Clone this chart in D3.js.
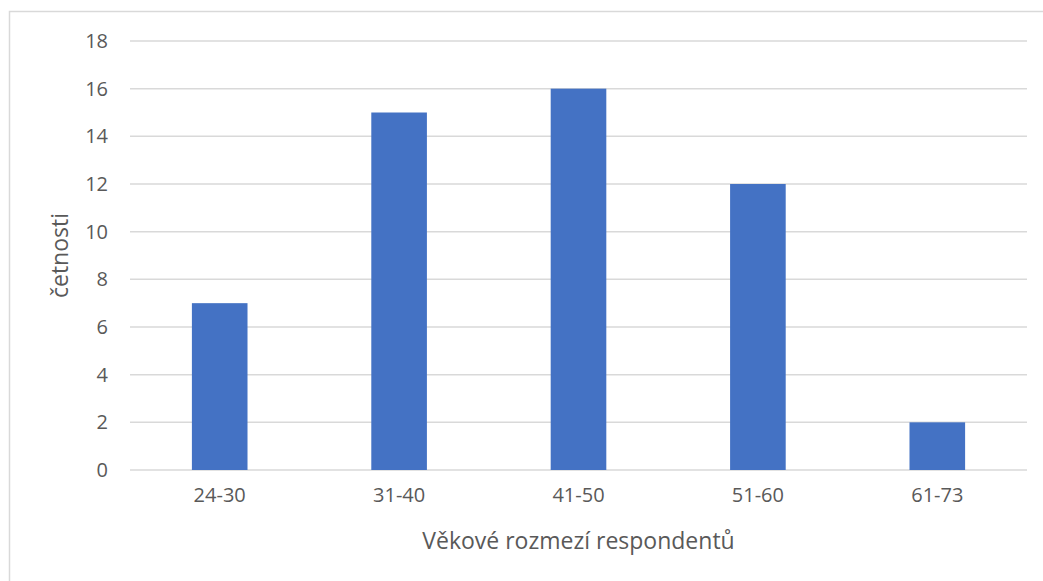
<!DOCTYPE html>
<html>
<head>
<meta charset="utf-8">
<script src="https://cdn.jsdelivr.net/npm/d3@7"></script>
<style>
  html, body { margin: 0; padding: 0; background: #fff; }
  svg { display: block; }
</style>
</head>
<body>
<div id="chart"></div>
<script>
// Respondent counts by age range
const categories = ["24-30", "31-40", "41-50", "51-60", "61-73"];
const counts = [7, 15, 16, 12, 2];
const yTicks = [0, 2, 4, 6, 8, 10, 12, 14, 16, 18];
const xTitle = "Věkové rozmezí respondentů";
const yTitle = "četnosti";

const W = 1043, H = 581;
const plot = { left: 130, right: 1027, top: 41, bottom: 470 };
const font = "'Open Sans', 'Noto Sans', sans-serif";
const textColor = "#595959";

const svg = d3.select("#chart").append("svg")
  .attr("width", W).attr("height", H);

// chart frame
svg.append("rect")
  .attr("x", 9.5).attr("y", 11.5)
  .attr("width", W + 10).attr("height", H + 10)
  .attr("fill", "#fff").attr("stroke", "#d9d9d9").attr("stroke-width", 1.5);

const x = d3.scaleBand()
  .domain(categories)
  .range([plot.left, plot.right])
  .paddingInner(0.69).paddingOuter(0.345);

const y = d3.scaleLinear()
  .domain([0, 18])
  .range([plot.bottom, plot.top]);

// horizontal gridlines
svg.append("g").selectAll("line").data(yTicks).join("line")
  .attr("x1", plot.left).attr("x2", plot.right)
  .attr("y1", d => y(d)).attr("y2", d => y(d))
  .attr("stroke", "#d9d9d9").attr("stroke-width", 1.5);

// bars
svg.append("g").selectAll("rect").data(categories).join("rect")
  .attr("x", d => x(d))
  .attr("width", x.bandwidth())
  .attr("y", (d, i) => y(counts[i]))
  .attr("height", (d, i) => y(0) - y(counts[i]))
  .attr("fill", "#4472c4");

// y axis labels
const yAxis = d3.axisLeft(y).tickValues(yTicks).tickSize(0).tickPadding(0);
const gy = svg.append("g").attr("transform", `translate(108,0)`).call(yAxis);
gy.select(".domain").remove();
gy.selectAll("text")
  .attr("fill", textColor)
  .style("font-family", font).style("font-size", "20px");

// x axis labels
const xAxis = d3.axisBottom(x).tickSize(0).tickPadding(0);
const gx = svg.append("g").attr("transform", `translate(0,${plot.bottom + 18})`).call(xAxis);
gx.select(".domain").remove();
gx.selectAll("text")
  .attr("fill", textColor)
  .style("font-family", font).style("font-size", "20px");

// axis titles
svg.append("text")
  .attr("x", (plot.left + plot.right) / 2).attr("y", 549)
  .attr("text-anchor", "middle")
  .attr("fill", textColor)
  .style("font-family", font).style("font-size", "23px")
  .text(xTitle);

svg.append("text")
  .attr("transform", `translate(68,${(plot.top + plot.bottom) / 2}) rotate(-90)`)
  .attr("text-anchor", "middle")
  .attr("fill", textColor)
  .style("font-family", font).style("font-size", "23px")
  .text(yTitle);
</script>
</body>
</html>
